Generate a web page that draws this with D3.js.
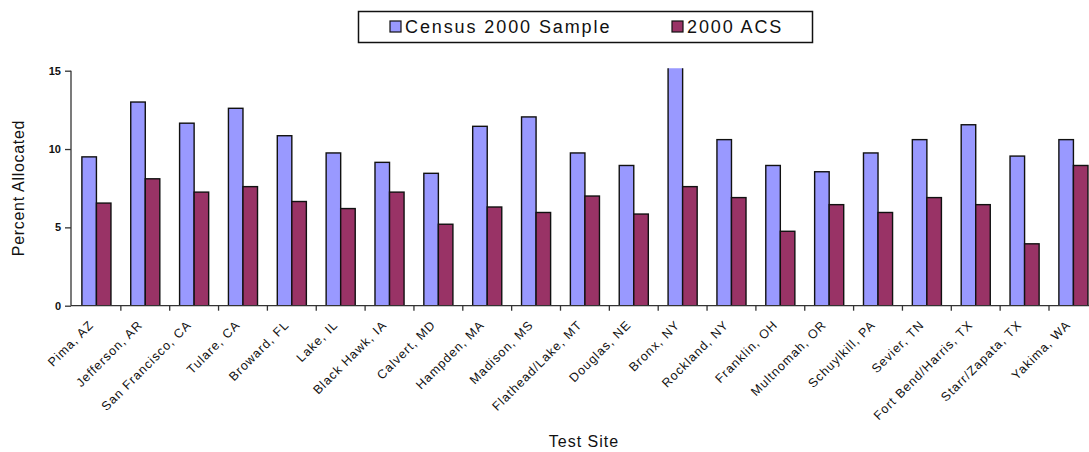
<!DOCTYPE html>
<html>
<head>
<meta charset="utf-8">
<script src="https://cdn.jsdelivr.net/npm/d3@7"></script>
<style>
  body { margin: 0; background: #fff; }
  svg { display: block; font-family: "Liberation Sans", Arial, sans-serif; }
</style>
</head>
<body>
<div id="chart"></div>
<script>
const width = 1089,
  height = 452,
  margin = { top: 70.7, left: 72, bottom: 146.3 };

// test sites in chart order
const sites = ["Pima, AZ", "Jefferson, AR", "San Francisco, CA", "Tulare, CA", "Broward, FL",
  "Lake, IL", "Black Hawk, IA", "Calvert, MD", "Hampden, MA", "Madison, MS",
  "Flathead/Lake, MT", "Douglas, NE", "Bronx, NY", "Rockland, NY", "Franklin, OH",
  "Multnomah, OR", "Schuylkill, PA", "Sevier, TN", "Fort Bend/Harris, TX",
  "Starr/Zapata, TX", "Yakima, WA"];

const seriesNames = ["Census 2000 Sample", "2000 ACS"];
const census2000 = [9.5, 13.0, 11.65, 12.6, 10.85, 9.75, 9.15, 8.45, 11.45, 12.05,
  9.75, 8.95, 15.5, 10.6, 8.95, 8.55, 9.75, 10.6, 11.55, 9.55, 10.6];
const acs2000 = [6.55, 8.1, 7.25, 7.6, 6.65, 6.2, 7.25, 5.2, 6.3, 5.95,
  7.0, 5.85, 7.6, 6.9, 4.75, 6.45, 5.95, 6.9, 6.45, 3.95, 8.95];
const yTicks = [0, 5, 10, 15];
const colors = ["#9999ff", "#993366"];

const step = 48.85;
const y0 = 305.7;

let svg = d3.select("#chart").append("svg")
  .attr("width", width)
  .attr("height", height);

// scales
const x0 = d3.scaleBand().domain(sites)
  .range([margin.left, margin.left + step * sites.length])
  .padding(0);
const x1 = d3.scaleBand().domain(seriesNames)
  .range([0, x0.bandwidth()])
  .paddingInner(0).paddingOuter(0.68);
const y = d3.scaleLinear().domain([0, 15]).range([y0, margin.top]);

svg.append("clipPath").attr("id", "plotclip")
  .append("rect")
  .attr("x", 0).attr("y", y(15) - 2.5)
  .attr("width", width).attr("height", y0 - y(15) + 2.5);

const rows = sites.map((s, i) => ({ site: s, values: [census2000[i], acs2000[i]] }));

// bars
const groups = svg.append("g").attr("clip-path", "url(#plotclip)")
  .selectAll("g.site")
  .data(rows)
  .join("g")
  .attr("class", "site")
  .attr("transform", d => `translate(${x0(d.site)},0)`);

groups.selectAll("rect")
  .data(d => d.values.map((v, j) => ({ key: seriesNames[j], value: v, j: j })))
  .join("rect")
  .attr("x", d => x1(d.key))
  .attr("y", d => y(d.value))
  .attr("width", x1.bandwidth())
  .attr("height", d => y0 - y(d.value))
  .attr("fill", d => colors[d.j])
  .attr("stroke", "#111")
  .attr("stroke-width", 1.4);

// y axis
const yAxis = svg.append("g")
  .attr("transform", `translate(${margin.left - 1},0)`)
  .call(d3.axisLeft(y).tickValues(yTicks).tickSize(6).tickPadding(4).tickFormat(d3.format("d")));
yAxis.select(".domain").attr("stroke", "#333").attr("stroke-width", 1.3).attr("d", `M0,${y(15)}V${y0}`);
yAxis.selectAll(".tick line").attr("stroke", "#333").attr("stroke-width", 1.3);
yAxis.selectAll(".tick text")
  .attr("font-size", 11).attr("font-weight", "bold").attr("fill", "#111")
  .attr("font-family", "Liberation Sans, Arial, sans-serif");

// x axis line
svg.append("line")
  .attr("x1", margin.left - 1).attr("x2", width)
  .attr("y1", y0).attr("y2", y0)
  .attr("stroke", "#333").attr("stroke-width", 1.3);

// tick marks between categories
svg.append("g").selectAll("line")
  .data(sites.slice(1))
  .join("line")
  .attr("x1", d => x0(d)).attr("x2", d => x0(d))
  .attr("y1", y0).attr("y2", y0 + 5)
  .attr("stroke", "#333").attr("stroke-width", 1.3);

// category labels
svg.append("g").selectAll("text")
  .data(sites)
  .join("text")
  .attr("transform", d => `translate(${x0(d) + x0.bandwidth() / 2 - 2},${y0 + 20}) rotate(-45)`)
  .attr("text-anchor", "end")
  .attr("font-size", 12.5)
  .attr("letter-spacing", 1)
  .attr("fill", "#111")
  .text(d => d);

// axis titles
svg.append("text")
  .attr("transform", `translate(24,188) rotate(-90)`)
  .attr("text-anchor", "middle")
  .attr("font-size", 16)
  .attr("letter-spacing", 0.7)
  .attr("fill", "#111")
  .text("Percent Allocated");

svg.append("text")
  .attr("x", 584).attr("y", 447)
  .attr("text-anchor", "middle")
  .attr("font-size", 16)
  .attr("letter-spacing", 1)
  .attr("fill", "#111")
  .text("Test Site");

// legend
const legend = svg.append("g");
legend.append("rect")
  .attr("x", 358.5).attr("y", 11.5)
  .attr("width", 454).attr("height", 31)
  .attr("fill", "#fff").attr("stroke", "#111").attr("stroke-width", 1.5);

const legendX = [390, 672];
const items = legend.selectAll("g.item")
  .data(seriesNames)
  .join("g")
  .attr("class", "item")
  .attr("transform", (d, i) => `translate(${legendX[i]},21)`);
items.append("rect")
  .attr("width", 11).attr("height", 11)
  .attr("fill", (d, i) => colors[i])
  .attr("stroke", "#111").attr("stroke-width", 1.2);
items.append("text")
  .attr("x", 15).attr("y", 11.5)
  .attr("font-size", 18)
  .attr("letter-spacing", 1.9)
  .attr("fill", "#111")
  .text(d => d);
</script>
</body>
</html>
